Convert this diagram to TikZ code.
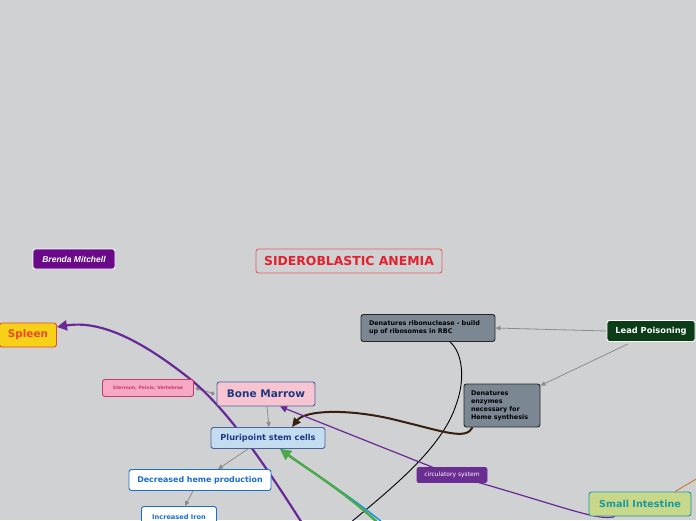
\documentclass[tikz,border=0pt]{standalone}
\usepackage{fontspec}
\setmainfont{DejaVu Sans}
\newfontfamily\brendafont{Liberation Sans}
\usetikzlibrary{arrows.meta,backgrounds}

\definecolor{bgcol}{RGB}{208,209,211}
\definecolor{brendacol}{RGB}{106,10,138}
\definecolor{titlecol}{RGB}{228,32,46}
\definecolor{spleenfill}{RGB}{247,209,23}
\definecolor{spleentext}{RGB}{232,74,42}
\definecolor{grayfill}{RGB}{123,135,147}
\definecolor{leadfill}{RGB}{11,61,22}
\definecolor{sternfill}{RGB}{247,168,196}
\definecolor{sterntext}{RGB}{200,58,106}
\definecolor{bonefill}{RGB}{247,196,210}
\definecolor{darkblue}{RGB}{30,58,128}
\definecolor{plurifill}{RGB}{196,220,240}
\definecolor{hemeblue}{RGB}{26,110,208}
\definecolor{circfill}{RGB}{106,45,145}
\definecolor{intefill}{RGB}{200,216,138}
\definecolor{intetext}{RGB}{26,154,158}
\definecolor{linkgray}{RGB}{140,140,140}
\definecolor{purpleline}{RGB}{104,40,150}
\definecolor{brownline}{RGB}{55,30,15}
\definecolor{greenline}{RGB}{76,168,72}

\newcommand{\fs}[1]{\fontsize{#1}{8}\selectfont}

\begin{document}
\begin{tikzpicture}[x=1pt, y=-1pt,
    box/.style={draw, rounded corners=2.5pt, line width=0.9pt, inner sep=0pt, font=\bfseries},
    grayarrow/.style={-{Triangle[length=5pt,width=4.5pt]}, linkgray, line width=0.8pt},
  ]
    \useasboundingbox (0,0) rectangle (696,520);

    % author and title
    \node[box, fill=brendacol, draw=white, text=white, minimum width=82pt, minimum height=20pt,
          font=\brendafont\bfseries\itshape\fs{8.5}] (brenda) at (74,259) {Brenda Mitchell};
    \node[box, draw=titlecol!75, text=titlecol, minimum width=186pt, minimum height=24pt,
          font=\bfseries\fs{12.4}] (title) at (349,261) {SIDEROBLASTIC ANEMIA};

    % left side
    \node[box, fill=spleenfill, draw=spleentext, text=spleentext, minimum width=57pt, minimum height=24pt,
          font=\bfseries\fs{10.4}] (spleen) at (28,335) {Spleen};
    \node[box, fill=sternfill, draw=sterntext, text=sterntext, minimum width=91pt, minimum height=17pt,
          font=\bfseries\fs{4.6}] (stern) at (148,388) {Sternum, Pelvis, Vertebrae};
    \node[box, fill=bonefill, draw=darkblue!80, text=darkblue, minimum width=98pt, minimum height=24pt,
          font=\bfseries\fs{10.5}] (bone) at (266,394) {Bone Marrow};
    \node[box, fill=plurifill, draw=darkblue!80, text=darkblue, minimum width=114pt, minimum height=21pt,
          font=\bfseries\fs{8.2}] (pluri) at (268,438) {Pluripoint stem cells};
    \node[box, fill=white, draw=hemeblue, text=hemeblue, minimum width=142pt, minimum height=21pt,
          font=\bfseries\fs{7.9}] (decr) at (200,480) {Decreased heme production};
    \node[box, fill=white, draw=hemeblue, text=hemeblue, minimum width=75pt, minimum height=21pt,
          font=\bfseries\fs{6.6}] (incr) at (179,517) {Increased Iron};

    % lead poisoning
    \node[box, fill=leadfill, draw=white, text=white, minimum width=88pt, minimum height=21pt,
          font=\bfseries\fs{8.3}] (lead) at (651,331) {Lead Poisoning};
    \node[box, fill=grayfill, draw=black!85, minimum width=134pt, minimum height=27pt,
          text width=118pt, align=left, font=\bfseries\fs{6.4}] (ribo) at (428,328)
          {Denatures ribonuclease - build\\up of ribosomes in RBC};
    \node[box, fill=grayfill, draw=black!85, minimum width=76pt, minimum height=43pt,
          text width=62pt, align=left, font=\bfseries\fs{6.4}] (enz) at (502,405.5)
          {Denatures\\enzymes\\necessary for\\Heme synthesis};

    % right side
    \node[box, fill=circfill, draw=circfill, text=white, minimum width=70pt, minimum height=15pt,
          rounded corners=2pt, font=\fs{6}] (circ) at (452,475) {circulatory system};
    \node[box, fill=intefill, draw=intetext, text=intetext, minimum width=102pt, minimum height=24pt,
          font=\bfseries\fs{9.6}] (inte) at (640,504) {Small Intestine};

    % free ends of cut links
    \coordinate (purpleend) at (302,523);
    \coordinate (blackend) at (350,523);
    \coordinate (greenend) at (378,523);
    \coordinate (blueend) at (383,523);
    \coordinate (brownend) at (698,478);

    \begin{scope}[on background layer]
        \fill[bgcol] (0,0) rectangle (696,520);
        % gray links
        \draw[grayarrow] (lead.west) -- (ribo.east);
        \draw[grayarrow] ([xshift=-23pt,yshift=-2pt]lead.south) -- ([yshift=-2pt]enz.north east);
        \draw[grayarrow] ([xshift=1pt]bone.south) -- ([xshift=1pt]pluri.north);
        \draw[grayarrow] ([xshift=-20pt]pluri.south) -- ([xshift=18pt]decr.north);
        \draw[grayarrow] ([xshift=-7pt]decr.south) -- ([xshift=6pt]incr.north);
        \draw[{Circle[length=4pt]}-{Circle[length=4pt]}, linkgray, line width=0.8pt]
            ([xshift=2pt]stern.east) -- ([xshift=-2pt]bone.west);
        % black curve
        \draw[black, line width=0.9pt] ([xshift=22pt]ribo.south)
            .. controls (462,352) and (466,378) .. (456,405)
            .. controls (442,448) and (392,488) .. (blackend);
        % brown curve
        \draw[brownline, line width=2pt, -{Triangle[length=9pt,width=8pt]}]
            ([xshift=9pt]enz.south west) .. controls (466,440) and (445,432) .. (400,421)
            .. controls (350,408) and (305,410) .. ([xshift=24pt]pluri.north);
        % purple to spleen
        \draw[purpleline, line width=2.2pt, -{Triangle[length=10pt,width=10pt]}]
            (purpleend) .. controls (265,465) and (225,405) .. (185,375)
            .. controls (140,340) and (100,320) .. ([yshift=8pt]spleen.east);
        % circulatory system
        \draw[purpleline, line width=1.2pt, -{Triangle[length=7pt,width=7pt]}]
            ([xshift=-25pt]inte.south) .. controls (598,522) and (560,505) .. (circ.center)
            -- ([xshift=14pt]bone.south);
        % blue and green
        \draw[hemeblue!70!cyan, line width=1.5pt] (blueend)
            .. controls (348,494) and (305,468) .. ([xshift=13pt]pluri.south);
        \draw[greenline, line width=2.4pt, -{Triangle[length=11pt,width=11pt]}] (greenend)
            .. controls (345,492) and (303,466) .. ([xshift=12pt]pluri.south);
        % brown to the right
        \draw[brown!80!orange, line width=1pt] ([xshift=35pt]inte.north) -- (brownend);
    \end{scope}
\end{tikzpicture}
\end{document}
